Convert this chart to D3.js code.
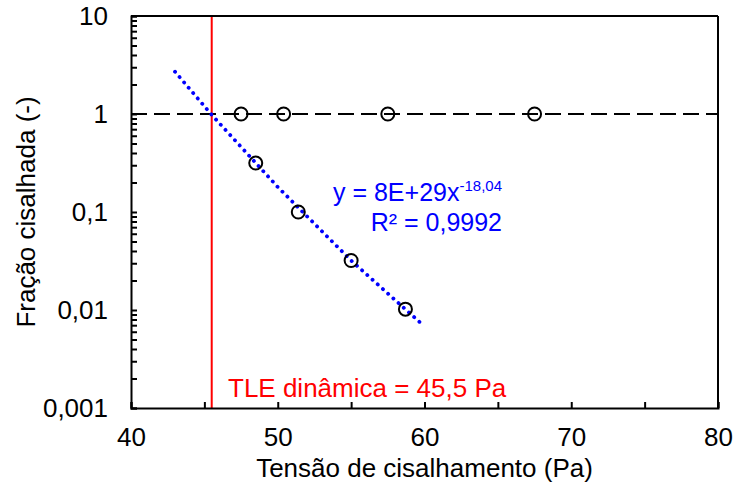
<!DOCTYPE html>
<html>
<head>
<meta charset="utf-8">
<script src="https://cdn.jsdelivr.net/npm/d3@7"></script>
<style>
  body { margin: 0; background: #fff; }
  text { font-family: "Liberation Sans", Arial, sans-serif; }
</style>
</head>
<body>
<svg id="chart"></svg>
<script>
// measured points
const tensao = [47.5, 50.4, 57.5, 67.5, 48.5, 51.4, 55.0, 58.7]
const fracao = [1, 1, 1, 1, 0.316, 0.1, 0.032, 0.0102]

// power trendline
const trendX = [43, 45.5, 50, 55, 60]
const trendY = [2.7, 0.98, 0.18, 0.032, 0.0068]

const tle = 45.5
const xTicks = [40, 50, 60, 70, 80]
const xMinor = [45, 55, 65, 75]
const yTicks = [0.001, 0.01, 0.1, 1, 10]
const yTickLabels = ['0,001', '0,01', '0,1', '1', '10']

const width = 737, height = 482
const margin = {top: 16, right: 19, bottom: 74, left: 131}

const svg = d3.select('#chart')
    .attr('width', width)
    .attr('height', height)

const x = d3.scaleLinear()
    .domain([40, 80])
    .range([margin.left, width - margin.right])

const y = d3.scaleLog()
    .domain([0.001, 10])
    .range([height - margin.bottom, margin.top])

// minor log ticks 2..9 per decade
const yMinor = []
for (let e = -3; e < 1; e++) {
    for (let m = 2; m <= 9; m++) yMinor.push(m * Math.pow(10, e))
}

// reference line at y = 1
svg.append('line')
    .attr('x1', x(40)).attr('x2', x(80))
    .attr('y1', y(1)).attr('y2', y(1))
    .attr('stroke', '#000')
    .attr('stroke-width', 2)
    .attr('stroke-dasharray', '16 7')

// TLE line
svg.append('line')
    .attr('x1', x(tle)).attr('x2', x(tle))
    .attr('y1', y(10)).attr('y2', y(0.001))
    .attr('stroke', '#ff0000')
    .attr('stroke-width', 2)

// trendline
const line = d3.line()
    .x((d, i) => x(trendX[i]))
    .y((d, i) => y(trendY[i]))

svg.append('path')
    .datum(trendX)
    .attr('d', line)
    .attr('fill', 'none')
    .attr('stroke', '#0000ff')
    .attr('stroke-width', 3.8)
    .attr('stroke-linecap', 'round')
    .attr('stroke-dasharray', '0.1 6.9')

// points
svg.selectAll('circle.pt')
    .data(tensao)
    .enter()
    .append('circle')
    .attr('class', 'pt')
    .attr('cx', d => x(d))
    .attr('cy', (d, i) => y(fracao[i]))
    .attr('r', 6.5)
    .attr('fill', 'none')
    .attr('stroke', '#000')
    .attr('stroke-width', 2)

// axes (ticks pointing inward)
const xAxis = d3.axisBottom(x)
    .tickValues(xTicks.concat(xMinor))
    .tickSize(-6)
    .tickFormat(d => xTicks.includes(d) ? d : '')
    .tickPadding(20)

svg.append('g')
    .attr('transform', 'translate(0,' + y(0.001) + ')')
    .call(xAxis)

const yAxis = d3.axisLeft(y)
    .tickValues(yTicks.concat(yMinor))
    .tickSize(-6)
    .tickFormat(d => {
        const i = yTicks.indexOf(d)
        return i >= 0 ? yTickLabels[i] : ''
    })
    .tickPadding(23)

svg.append('g')
    .attr('transform', 'translate(' + x(40) + ',0)')
    .call(yAxis)

svg.selectAll('.domain').attr('stroke', '#000').attr('stroke-width', 2)
svg.selectAll('.tick line').attr('stroke', '#000').attr('stroke-width', 2)
svg.selectAll('.tick text')
    .attr('fill', '#000')
    .style('font-size', '26px')
    .style('font-family', '"Liberation Sans", Arial, sans-serif')

// top and right frame
svg.append('line')
    .attr('x1', x(40)).attr('x2', x(80))
    .attr('y1', y(10)).attr('y2', y(10))
    .attr('stroke', '#000').attr('stroke-width', 2)
svg.append('line')
    .attr('x1', x(80)).attr('x2', x(80))
    .attr('y1', y(10)).attr('y2', y(0.001))
    .attr('stroke', '#000').attr('stroke-width', 2)

// axis titles
svg.append('text')
    .attr('x', (x(40) + x(80)) / 2)
    .attr('y', 477)
    .attr('text-anchor', 'middle')
    .style('font-size', '26px')
    .text('Tensão de cisalhamento (Pa)')

svg.append('text')
    .attr('transform', 'translate(35,' + (y(10) + y(0.001)) / 2 + ') rotate(-90)')
    .attr('text-anchor', 'middle')
    .style('font-size', '26px')
    .text('Fração cisalhada (-)')

// equation
const eq = svg.append('text')
    .attr('x', 502)
    .attr('y', 201)
    .attr('text-anchor', 'end')
    .attr('fill', '#0000ff')
    .style('font-size', '25px')
eq.append('tspan').text('y = 8E+29x')
eq.append('tspan')
    .attr('dy', -10)
    .style('font-size', '15px')
    .text('-18,04')

svg.append('text')
    .attr('x', 502)
    .attr('y', 231)
    .attr('text-anchor', 'end')
    .attr('fill', '#0000ff')
    .style('font-size', '25px')
    .text('R² = 0,9992')

// TLE label
svg.append('text')
    .attr('x', 228)
    .attr('y', 397)
    .attr('fill', '#ff0000')
    .style('font-size', '26px')
    .text('TLE dinâmica = 45,5 Pa')
</script>
</body>
</html>
